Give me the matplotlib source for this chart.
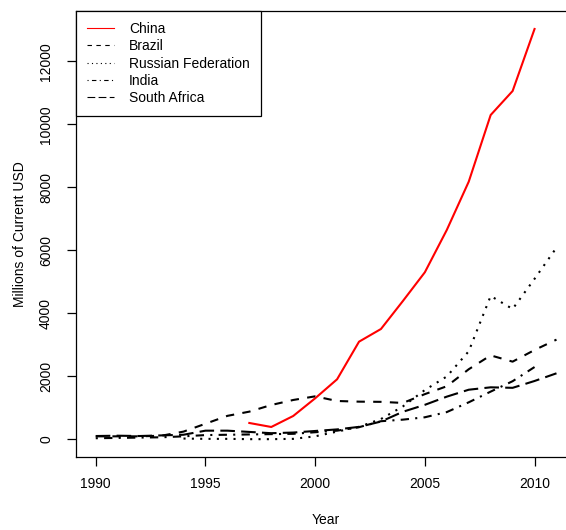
import matplotlib
matplotlib.use("Agg")
import matplotlib.pyplot as plt
import numpy as np

plt.rcParams["font.family"] = ["Liberation Sans", "DejaVu Sans"]

# Outward spending, millions of current USD
china_years = np.arange(1997, 2011)
china = [524, 397, 746, 1307, 1911, 3105, 3508, 4397, 5308, 6651, 8184,
         10301, 11063, 13032]

brazil_years = np.arange(1990, 2012)
brazil = [100, 100, 100, 120, 250, 500, 750, 884, 1095, 1254, 1370, 1222,
          1201, 1195, 1160, 1440, 1690, 2230, 2670, 2471, 2841, 3170]

russia_years = np.arange(1994, 2012)
russia = [30, 20, 20, 10, 10, 20, 100, 250, 400, 650, 1050, 1570, 2000,
          2800, 4556, 4143, 5100, 6090]

india_years = np.arange(1990, 2011)
india = [40, 50, 60, 70, 100, 140, 150, 160, 170, 180, 230, 280, 390, 580,
         630, 705, 870, 1180, 1520, 1850, 2300]

sa_years = np.arange(1990, 2012)
south_africa = [110, 120, 110, 130, 150, 280, 280, 240, 200, 220, 270, 320,
                400, 570, 880, 1100, 1360, 1580, 1656, 1640, 1857, 2101]

x_ticks = [1990, 1995, 2000, 2005, 2010]
y_ticks = np.arange(0, 12001, 2000)

# draw on a wider canvas, then keep only the left 566 columns
W, H = 566, 530
FULL_W = 600
fig = plt.figure(figsize=(FULL_W / 100, H / 100), dpi=100)
ax_w = 575.4 - 76
ax = fig.add_axes([76 / FULL_W, (H - 457) / H, ax_w / FULL_W, (457 - 11) / H])

lw = 1.5
ax.plot(china_years, china, color="#ff0000", lw=lw, label="China")
ax.plot(brazil_years, brazil, color="black", lw=lw, ls=(0, (4, 4)),
        label="Brazil")
ax.plot(russia_years, russia, color="black", lw=lw, ls=(0, (1, 3)),
        label="Russian Federation")
ax.plot(india_years, india, color="black", lw=lw, ls=(0, (1, 3, 4, 3)),
        label="India")
ax.plot(sa_years, south_africa, color="black", lw=lw, ls=(0, (7, 3)),
        label="South Africa")

ax.set_xlim(1989.10, 1989.10 + ax_w / 21.94)
ax.set_ylim(-556, 13603)
ax.set_xticks(x_ticks)
ax.set_yticks(y_ticks)
ax.set_yticklabels([str(v) for v in y_ticks], rotation=90, va="center")
ax.tick_params(axis="both", direction="out", length=6.5, width=0.9,
               labelsize=10, colors="black")
ax.tick_params(axis="x", pad=8)
ax.tick_params(axis="y", pad=10)
for s in ax.spines.values():
    s.set_linewidth(0.9)
    s.set_color("black")

ax.set_xlabel("Year", fontsize=10, labelpad=16)
ax.set_ylabel("Millions of Current USD", fontsize=10, labelpad=9)

leg = ax.legend(loc="upper left", bbox_to_anchor=(0, 1), borderaxespad=0,
                fancybox=False, edgecolor="black", framealpha=1,
                handlelength=1.9, handletextpad=1.1, borderpad=0.8,
                labelspacing=0.23, fontsize=10)
leg.get_frame().set_linewidth(0.9)
# legend keys are drawn with thin lines
for handle in leg.get_lines():
    handle.set_linewidth(0.8)

fig.canvas.draw()
img = np.asarray(fig.canvas.buffer_rgba())
plt.imsave("out.png", img[:, :W])
